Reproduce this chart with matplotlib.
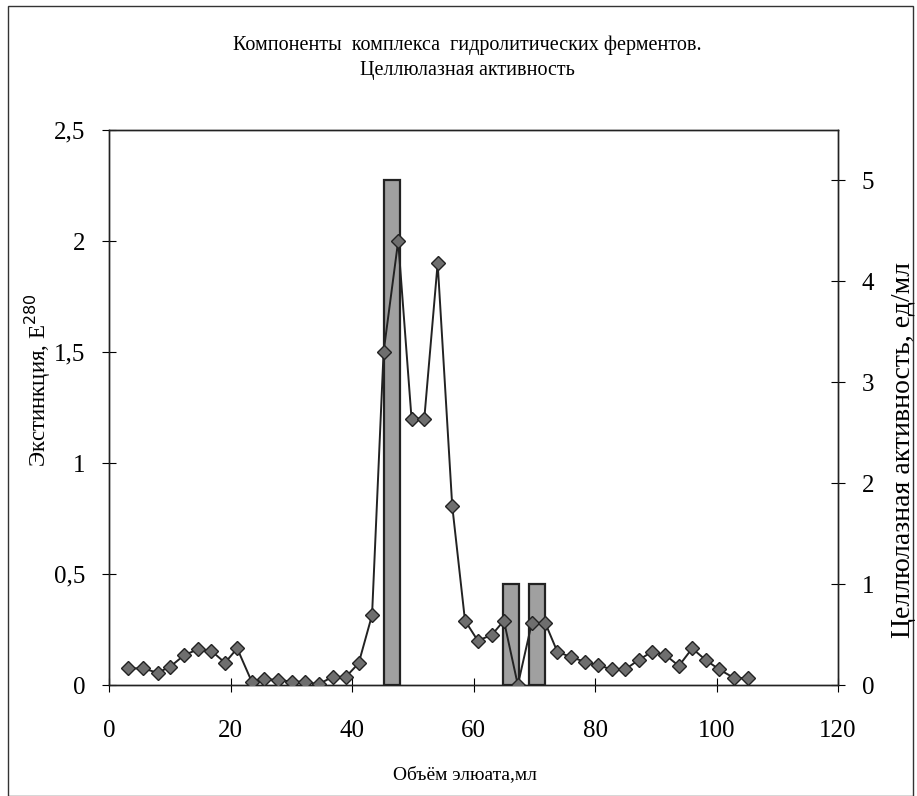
import matplotlib
matplotlib.use('Agg')
import matplotlib.pyplot as plt
from matplotlib.patches import Rectangle

# extinction E280 by eluate volume
volume = [3.2, 5.6, 8.0, 10.1, 12.4, 14.6, 16.8, 19.1, 21.1, 23.5, 25.5, 27.9,
          30.1, 32.3, 34.5, 36.8, 39.0, 41.1, 43.3, 45.2, 47.6, 49.8, 51.9, 54.1,
          56.5, 58.6, 60.7, 63.0, 65.0, 67.3, 69.6, 71.8, 73.8, 76.1, 78.3, 80.5,
          82.8, 85.0, 87.2, 89.4, 91.6, 93.8, 96.0, 98.2, 100.4, 102.8, 105.2]
extinction = [0.075, 0.075, 0.055, 0.083, 0.135, 0.16, 0.155, 0.10, 0.165, 0.015,
              0.026, 0.023, 0.015, 0.015, 0.003, 0.037, 0.037, 0.098, 0.315, 1.50,
              2.00, 1.20, 1.20, 1.90, 0.806, 0.29, 0.20, 0.225, 0.29, 0.0, 0.28, 0.28,
              0.15, 0.125, 0.105, 0.088, 0.071, 0.071, 0.113, 0.15, 0.135, 0.086,
              0.165, 0.113, 0.071, 0.033, 0.030]

# cellulase activity, units/ml
bar_volume = [46.6, 66.2, 70.5]
activity = [5.0, 1.0, 1.0]

x_ticks = [0, 20, 40, 60, 80, 100, 120]
left_ticks = [0, 0.5, 1, 1.5, 2, 2.5]
left_labels = ['0', '0,5', '1', '1,5', '2', '2,5']
right_ticks = [0, 1, 2, 3, 4, 5]

plt.rcParams['font.family'] = ['Liberation Serif', 'DejaVu Serif']

fig = plt.figure(figsize=(9.17, 7.96), dpi=100)
ax = fig.add_axes([109 / 917, 1 - 685 / 796, (838 - 109) / 917, (685 - 130) / 796])
ax2 = ax.twinx()

ax2.bar(bar_volume, activity, width=2.6, color='#a0a0a0', edgecolor='#222222',
        linewidth=1.6, zorder=1)
ax.plot(volume, extinction, color='#222222', linewidth=1.4, marker='D',
        markersize=7, markerfacecolor='#6e6e6e', markeredgecolor='#222222', zorder=3)

# line on top of bars
ax.set_zorder(ax2.get_zorder() + 1)
ax.patch.set_visible(False)

ax.set_xlim(0, 120)
ax.set_ylim(0, 2.5)
ax2.set_ylim(0, 5.5)

ax.set_xticks(x_ticks)
ax.set_yticks(left_ticks)
ax.set_yticklabels(left_labels)
ax2.set_yticks(right_ticks)

for a in (ax, ax2):
    for s in a.spines.values():
        s.set_linewidth(1.0)
        s.set_color('#222222')
ax.tick_params(axis='x', direction='inout', length=10, labelsize=18, pad=20)
ax.tick_params(axis='y', direction='inout', length=10, labelsize=18, pad=12)
ax2.tick_params(axis='y', direction='inout', length=10, labelsize=18, pad=12)

fig.text(465 / 917, 1 - 775 / 796, 'Объём элюата,мл', ha='center', va='center', fontsize=14)
fig.text(38 / 917, 1 - 380 / 796, 'Экстинкция, E$^{280}$', ha='center', va='center',
         rotation=90, fontsize=16.5)
fig.text(904 / 917, 1 - 450 / 796, 'Целлюлазная активность, ед/мл', ha='center',
         va='center', rotation=90, fontsize=20)

fig.text(467 / 917, 1 - 45 / 796, 'Компоненты  комплекса  гидролитических ферментов.',
         ha='center', va='center', fontsize=14.5)
fig.text(467 / 917, 1 - 71 / 796, 'Целлюлазная активность',
         ha='center', va='center', fontsize=14.5)

# page frame of the scan
fig.patches.append(Rectangle((8 / 917, 0), 905 / 917, 1 - 6 / 796, transform=fig.transFigure,
                             fill=False, edgecolor='#333333', linewidth=1.0))

fig.savefig('out.png', dpi=100)
